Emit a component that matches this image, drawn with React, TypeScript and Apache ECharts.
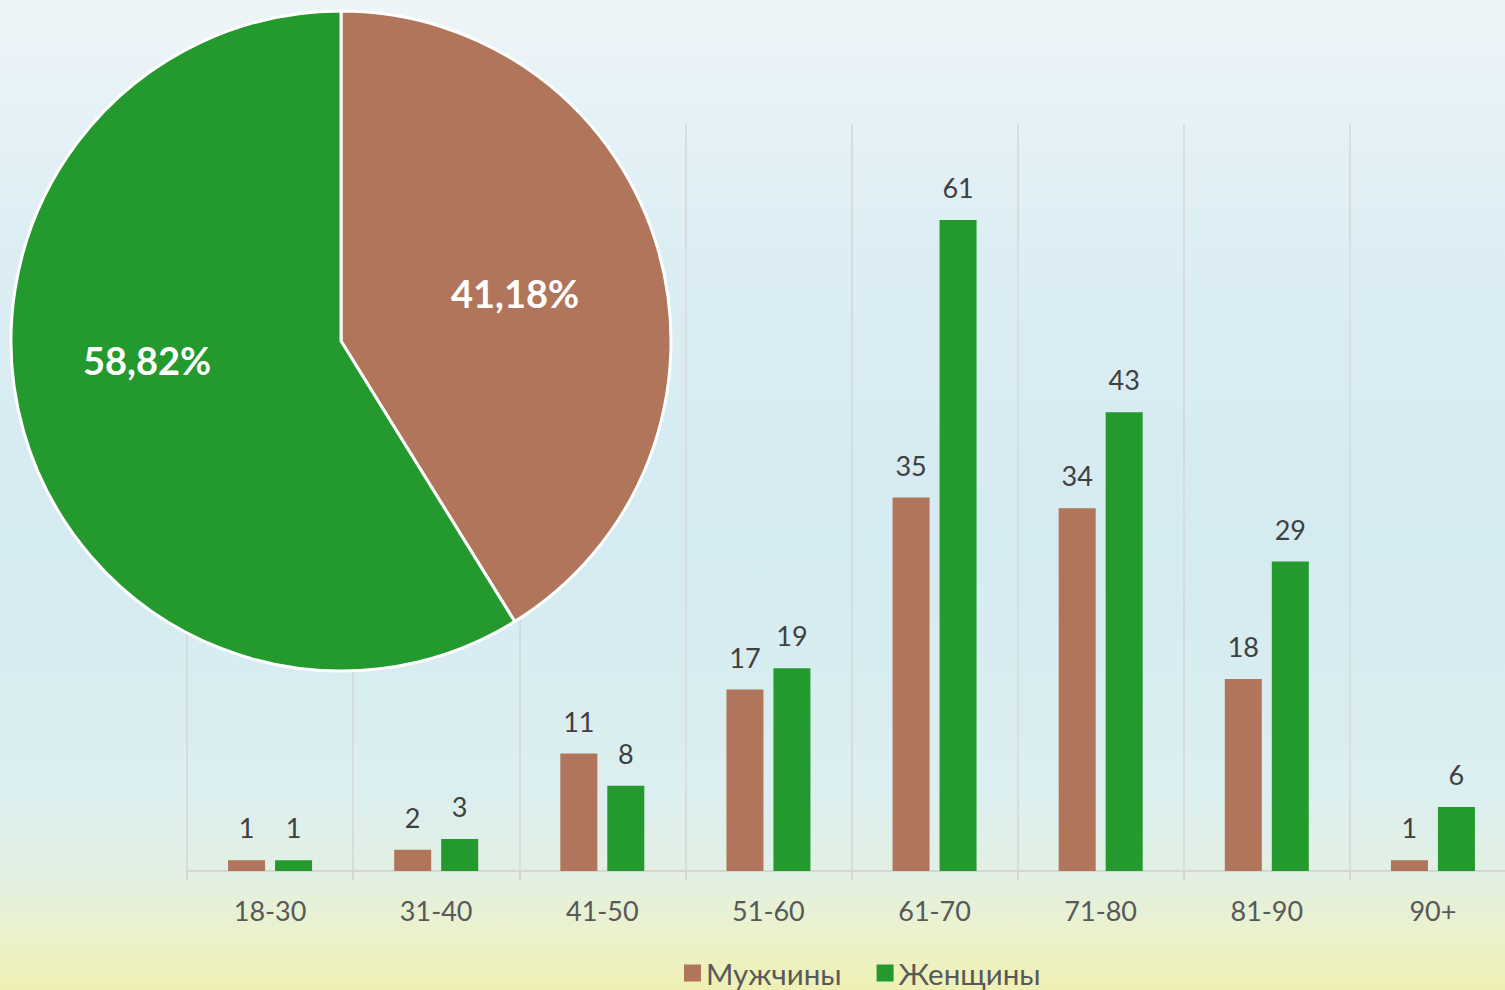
import React, { useEffect, useRef } from "react";
import * as echarts from "echarts";

const categories = ["18-30", "31-40", "41-50", "51-60", "61-70", "71-80", "81-90", "90+"];
const men = [1, 2, 11, 17, 35, 34, 18, 1];
const women = [1, 3, 8, 19, 61, 43, 29, 6];
const seriesNames = ["Мужчины", "Женщины"];

const BROWN = "#b0755a";
const GREEN = "#23992e";
const FONT = "Lato, 'Open Sans', sans-serif";

export default function App() {
  const ref = useRef<HTMLDivElement>(null);
  useEffect(() => {
    if (!ref.current) return;
    const chart = echarts.init(ref.current, null, { renderer: "svg" });
    const sumMen = men.reduce((a, b) => a + b, 0);
    const sumWomen = women.reduce((a, b) => a + b, 0);
    const total = sumMen + sumWomen;
    const pct = (v: number) => ((v / total) * 100).toFixed(2).replace(".", ",") + "%";

    const barLabel = {
      show: true,
      position: "top",
      distance: 19,
      color: "#404040",
      fontSize: 27,
      fontFamily: FONT,
    };

    chart.setOption({
      animation: false,
      backgroundColor: {
        type: "linear",
        x: 0, y: 0, x2: 0, y2: 1,
        colorStops: [
          { offset: 0, color: "#eef5f8" },
          { offset: 0.25, color: "#dceef4" },
          { offset: 0.55, color: "#d4ebf1" },
          { offset: 0.8, color: "#dceff0" },
          { offset: 0.89, color: "#e3f0e2" },
          { offset: 0.95, color: "#ecf2c8" },
          { offset: 1, color: "#eef0b4" },
        ],
      },
      textStyle: { fontFamily: FONT },
      grid: {
        left: 187,
        width: 1329,
        top: 124,
        bottom: 119,
        containLabel: false,
        outerBoundsMode: "none",
      },
      legend: {
        left: 679,
        top: 953,
        itemWidth: 17,
        itemHeight: 17,
        itemGap: 35,
        icon: "rect",
        data: seriesNames,
        textStyle: { color: "#595959", fontSize: 29.5, fontFamily: FONT },
      },
      xAxis: {
        type: "category",
        data: categories,
        axisLine: { lineStyle: { color: "#d6d6d6", width: 2 } },
        axisTick: { show: true, length: 9, lineStyle: { color: "#d6d6d6", width: 2 } },
        splitLine: { show: true, lineStyle: { color: "#d6d6d6", width: 1.5 } },
        axisLabel: { color: "#595959", fontSize: 27, margin: 26, fontFamily: FONT },
      },
      yAxis: { type: "value", min: 0, max: 70, show: false, splitLine: { show: false } },
      series: [
        {
          name: seriesNames[0],
          type: "bar",
          data: men,
          barWidth: 37,
          barGap: "27%",
          itemStyle: { color: BROWN },
          label: barLabel,
        },
        {
          name: seriesNames[1],
          type: "bar",
          data: women,
          barWidth: 37,
          itemStyle: { color: GREEN },
          label: barLabel,
        },
        {
          type: "pie",
          center: [341, 341],
          radius: [0, 330],
          startAngle: 90,
          clockwise: true,
          silent: true,
          z: 10,
          label: { show: false },
          labelLine: { show: false },
          itemStyle: { borderColor: "#ffffff", borderWidth: 3 },
          data: [
            { name: seriesNames[0], value: sumMen, itemStyle: { color: BROWN } },
            { name: seriesNames[1], value: sumWomen, itemStyle: { color: GREEN } },
          ],
        },
      ],
      graphic: [
        {
          type: "text",
          x: 515,
          y: 293,
          z: 100,
          style: {
            text: pct(sumMen),
            fill: "#ffffff",
            fontSize: 38,
            fontWeight: "bold",
            fontFamily: FONT,
            textAlign: "center",
            textVerticalAlign: "middle",
          },
        },
        {
          type: "text",
          x: 147,
          y: 360,
          z: 100,
          style: {
            text: pct(sumWomen),
            fill: "#ffffff",
            fontSize: 38,
            fontWeight: "bold",
            fontFamily: FONT,
            textAlign: "center",
            textVerticalAlign: "middle",
          },
        },
      ],
    });
    return () => chart.dispose();
  }, []);
  return (
    <div
      ref={ref}
      style={{ position: "absolute", left: 0, top: 0, width: 1505, height: 990 }}
    />
  );
}
